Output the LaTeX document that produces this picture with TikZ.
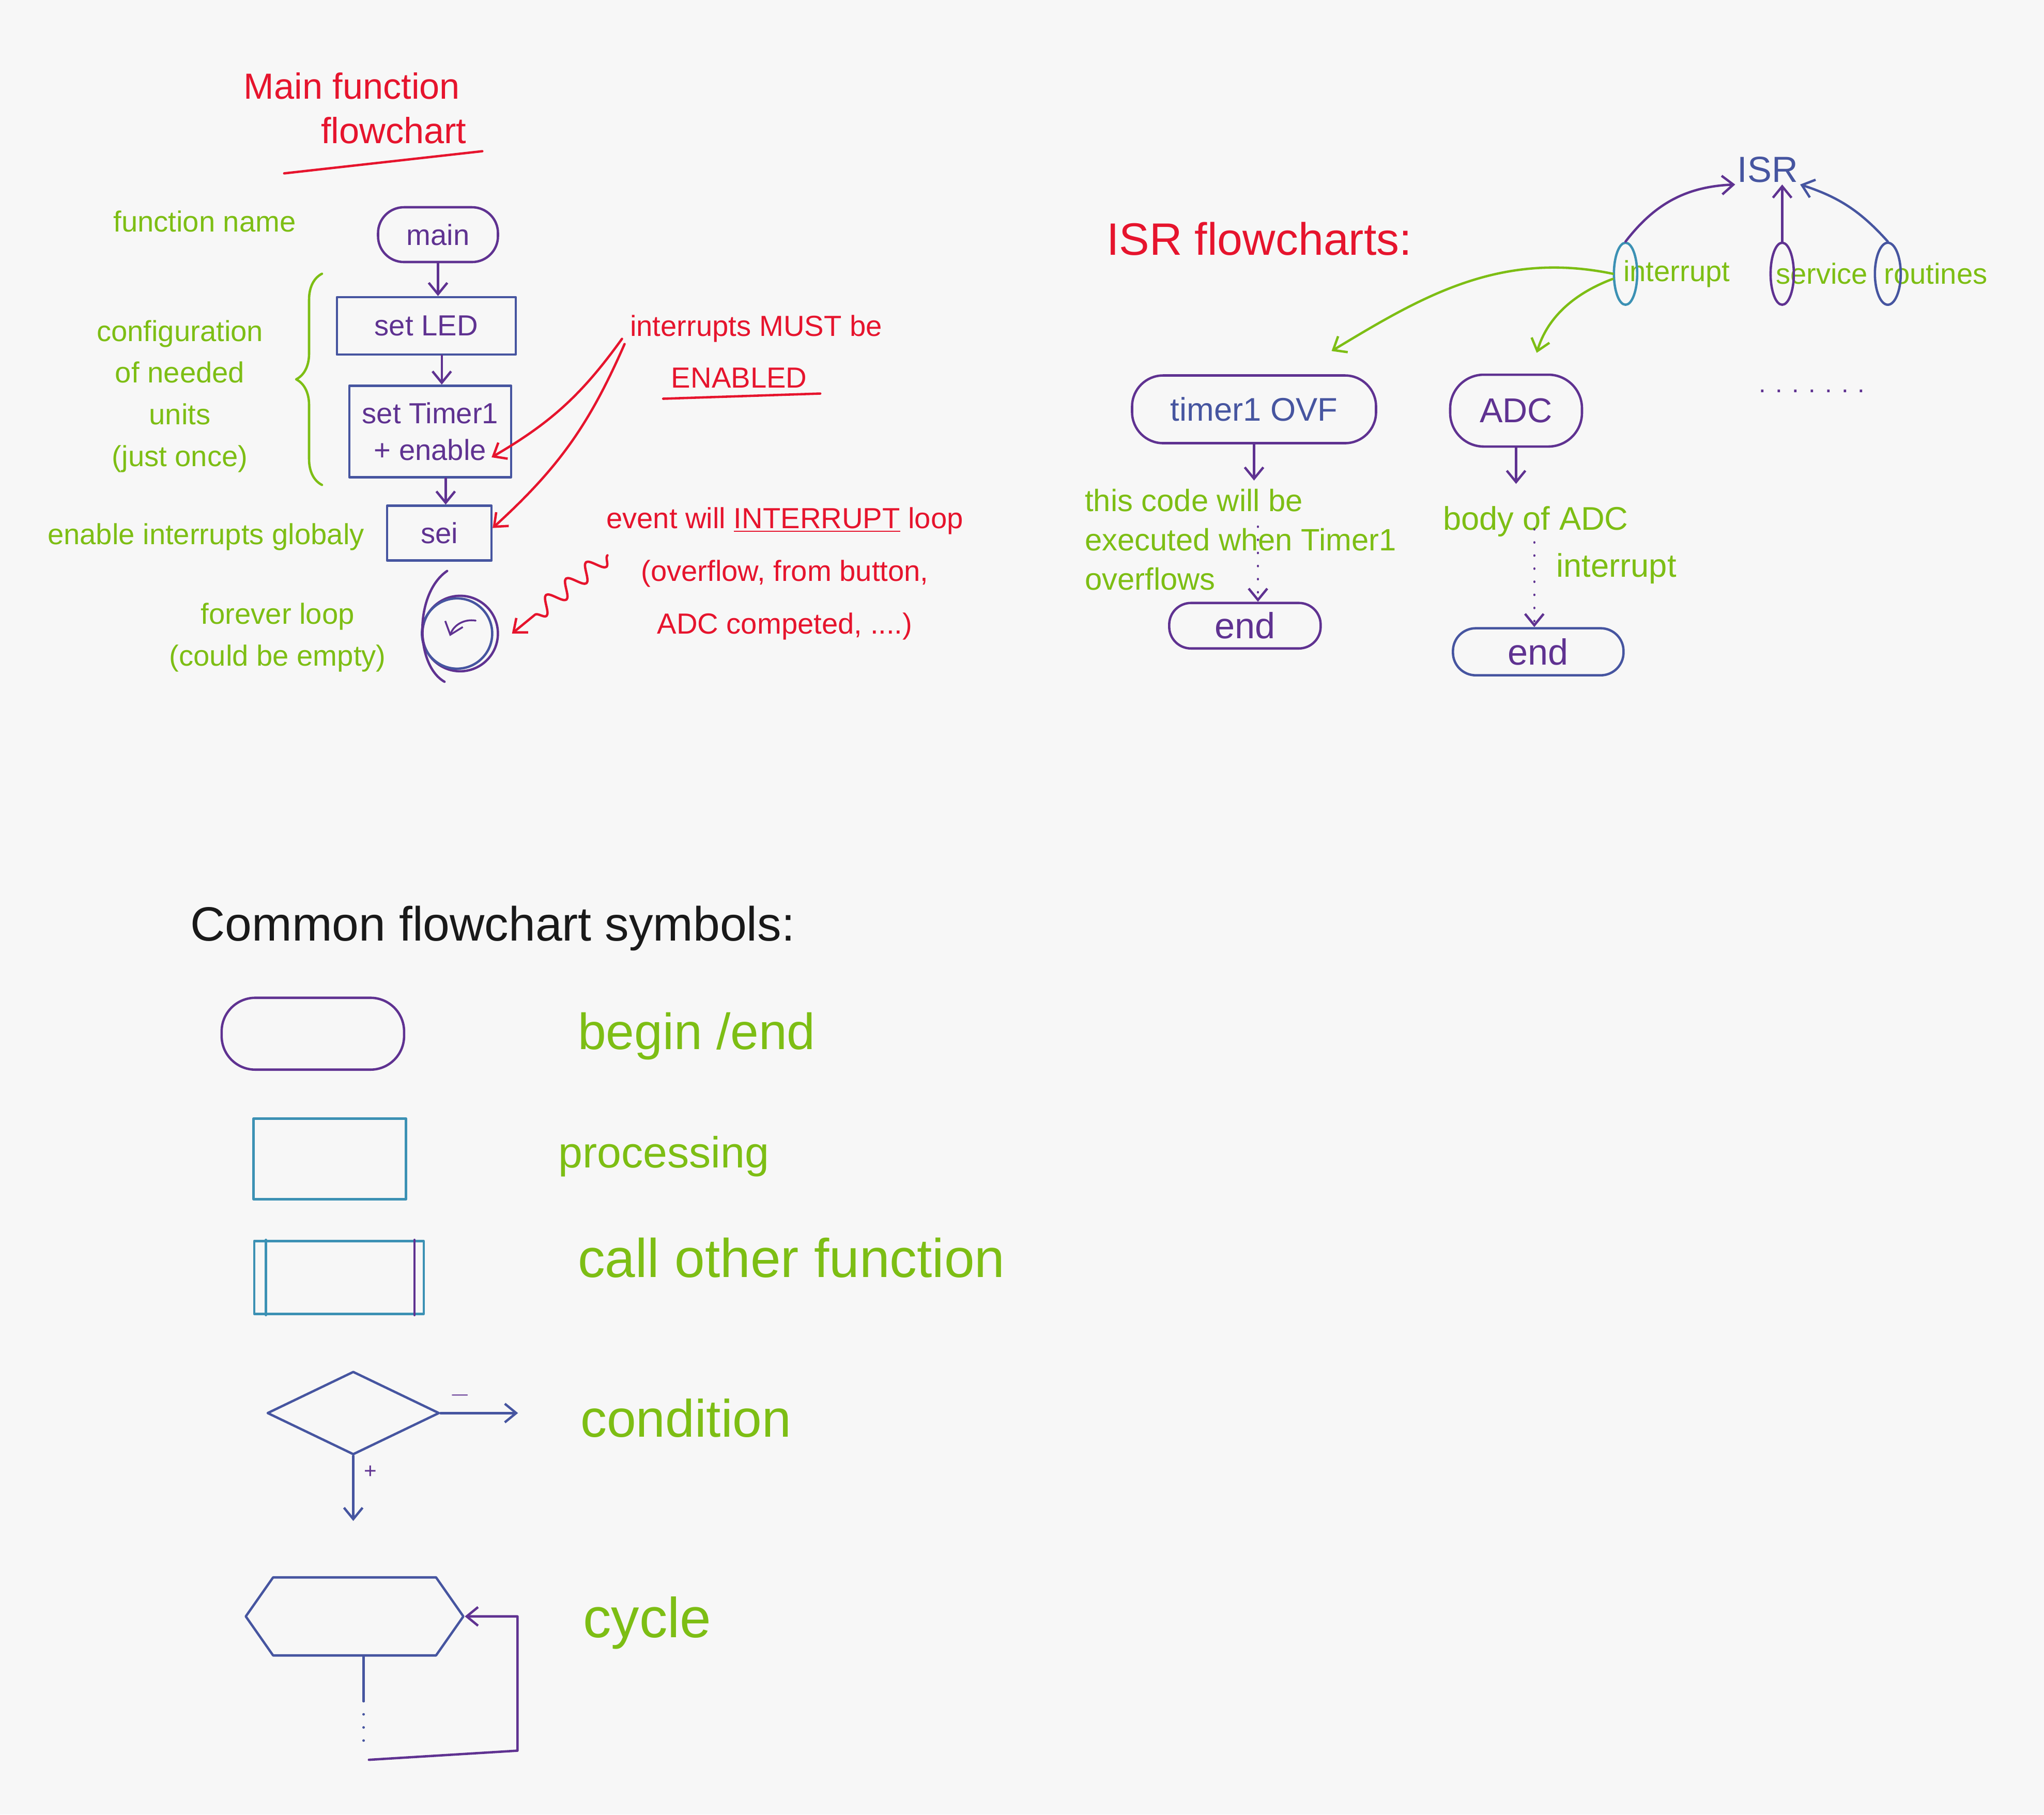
\documentclass[tikz,border=0pt]{standalone}
\usepackage{fontspec}
\setmainfont{Liberation Sans}
\usetikzlibrary{shapes.geometric, shapes.symbols, arrows.meta}
\usetikzlibrary{positioning, decorations.pathreplacing, decorations.pathmorphing}

\definecolor{bgpaper}{RGB}{247,247,247}
\definecolor{inkred}{RGB}{230,20,45}
\definecolor{inkgreen}{RGB}{125,190,20}
\definecolor{inkpurple}{RGB}{95,50,145}
\definecolor{inkblue}{RGB}{70,85,160}
\definecolor{inkteal}{RGB}{60,145,180}
\definecolor{inkblack}{RGB}{25,25,25}

\tikzset{
  ink/.style={line width=1.3pt, line cap=round, line join=round},
  arr/.style={ink, -{Straight Barb[length=2.2mm, width=3.6mm]}},
  dots/.style={ink, dash pattern=on 0.1pt off 2.5mm},
  terminal/.style={ink, draw=inkpurple, text=inkpurple, inner sep=0pt, font=\fontsize{16}{18}\selectfont},
  process/.style={ink, draw=inkblue, text=inkpurple, inner sep=0pt, align=center, font=\fontsize{16}{20}\selectfont},
  note/.style={text=inkgreen, inner sep=0pt, align=center, font=\fontsize{16}{23}\selectfont},
  redtext/.style={text=inkred, inner sep=0pt, align=center, font=\fontsize{16}{29}\selectfont},
  redtitle/.style={text=inkred, inner sep=0pt, font=\fontsize{20}{24}\selectfont},
  legendtext/.style={text=inkgreen, inner sep=0pt, anchor=west, font=\fontsize{28}{30}\selectfont},
  ring/.style={ink, ellipse, draw, minimum width=0.45cm, minimum height=1.2cm, inner sep=0pt},
}

\begin{document}
\begin{tikzpicture}[x=0.02522cm, y=-0.02522cm]
\useasboundingbox (0,0) rectangle (1568,1392);
\fill[bgpaper] (0,0) rectangle (1568,1392);

%% Main function flowchart
\node[redtitle] (titlea) at (270,66) {Main function};
\node[redtitle] (titleb) at (302,100) {flowchart};
\draw[ink, inkred] (218,133) -- (370,116);

\node[terminal, minimum width=2.32cm, minimum height=1.06cm, rounded corners=0.5cm] (main) at (336,180) {main};
\node[process, minimum width=3.46cm, minimum height=1.11cm] (setled) at (327,250) {set LED};
\node[process, minimum width=3.13cm, minimum height=1.77cm] (settim) at (330,331) {set Timer1\\+ enable};
\node[process, minimum width=2.02cm, minimum height=1.06cm] (sei) at (337,409) {sei};
\node[ink, circle, draw=inkpurple, minimum size=1.46cm, inner sep=0pt] (loop) at (353,486) {};

\draw[arr, inkpurple] (main.south) -- (main.south |- setled.north);
\draw[arr, inkpurple] ([xshift=0.3cm]setled.south) -- ([xshift=0.3cm]setled.south |- settim.north);
\draw[arr, inkpurple] ([xshift=0.3cm]settim.south) -- ([xshift=0.3cm]settim.south |- sei.north);

% forever loop strokes
\draw[ink, inkblue] ([xshift=-0.06cm]loop.center) circle (0.68cm);
\coordinate (looptop) at (343,438);
\coordinate (loopbot) at (341,523);
\draw[ink, inkpurple] (looptop) .. controls (318,455) and (318,510) .. (loopbot);
\draw[arr, inkpurple, line width=1pt] ([xshift=0.3cm,yshift=0.25cm]loop.center) to[bend right=40] ([xshift=-0.2cm,yshift=-0.05cm]loop.center);

%% green notes
\node[note] (fname) at (157,170) {function name};
\node[note] (config) at (138,304) {configuration\\of needed\\units\\(just once)};
\draw[ink, inkgreen, decorate, decoration={brace, amplitude=0.5cm}] (247,372) -- (247,210);
\node[note] (enint) at (158,412) {enable interrupts globaly};
\node[note] (forever) at (213,489) {forever loop\\(could be empty)};

%% red notes
\node[redtext] (mustbe) at (580,252) {interrupts MUST be};
\node[redtext] (enabled) at (567,290) {ENABLED};
\draw[ink, inkred] ([xshift=-0.15cm,yshift=-0.2cm]enabled.south west) -- ([xshift=0.25cm,yshift=-0.1cm]enabled.south east);
\draw[arr, inkred] ([xshift=-0.15cm,yshift=-0.2cm]mustbe.west) to[bend left=12] ([xshift=-0.4cm,yshift=-0.5cm]settim.east);
\draw[arr, inkred] ([xshift=-0.1cm,yshift=-0.3cm]mustbe.west) to[bend left=12] ([yshift=0.1cm]sei.east);

\node[redtext] (event) at (602,440) {event will \underline{INTERRUPT} loop\\(overflow, from button,\\ADC competed, ....)};
\coordinate (squig) at (466,426);
\draw[arr, inkred, decorate, decoration={snake, amplitude=1.6mm, segment length=5mm, post length=5mm}] (squig) -- ([xshift=0.25cm]loop.east);

%% ISR flowcharts
\node[redtitle, font=\fontsize{25}{28}\selectfont] (isrtitle) at (966,183) {ISR flowcharts:};
\node[text=inkblue, inner sep=1pt, font=\fontsize{20}{22}\selectfont] (isr) at (1356,130) {ISR};

\node[note, anchor=west] (wint) at (1245,210) {interrupt};
\node[note, anchor=west] (wserv) at (1362,210) {service};
\node[note, anchor=west] (wrout) at (1445,210) {routines};
\node[ring, draw=inkteal] (ci) at ([xshift=0.05cm]wint.west) {};
\node[ring, draw=inkpurple] (cs) at ([xshift=0.13cm]wserv.west) {};
\node[ring, draw=inkblue, minimum width=0.5cm] (cr) at ([xshift=0.08cm]wrout.west) {};

\draw[arr, inkpurple] (ci.north) to[bend left=25] (isr.south west);
\draw[arr, inkpurple] (cs.north) -- (cs.north |- isr.south);
\draw[arr, inkblue] (cr.north) to[bend right=15] (isr.south east);

\node[terminal, draw=inkpurple, text=inkblue, minimum width=4.72cm, minimum height=1.31cm, rounded corners=0.6cm, font=\fontsize{18}{20}\selectfont] (tovf) at (962,314) {timer1 OVF};
\node[terminal, minimum width=2.55cm, minimum height=1.39cm, rounded corners=0.65cm, font=\fontsize{19}{21}\selectfont] (adc) at (1163,315) {ADC};
\node[text=inkpurple, inner sep=0pt, font=\fontsize{14}{16}\selectfont] (more) at (1390,300) {. . . . . . .};

\draw[arr, inkgreen] (ci.west) .. controls (1150,192) and (1090,228) .. ([xshift=1.5cm,yshift=0.45cm]tovf.north);
\draw[arr, inkgreen] ([yshift=-0.1cm]ci.west) .. controls (1200,228) and (1185,250) .. ([xshift=0.4cm,yshift=0.4cm]adc.north);

\coordinate[below=0.7cm of tovf.south] (tovfa);
\draw[arr, inkpurple] (tovf.south) -- (tovfa);
\node[note, anchor=north west, align=left, font=\fontsize{17}{21.5}\selectfont] (tovfnote) at (832,375) {this code will be\\executed when Timer1\\overflows};
\node[terminal, minimum width=2.93cm, minimum height=0.88cm, rounded corners=0.42cm, font=\fontsize{20}{22}\selectfont] (tend) at (955,480) {end};
\coordinate (tovfb) at (965,404);
\draw[arr, dots, inkpurple] (tovfb) -- (tovfb |- tend.north);

\coordinate[below=0.7cm of adc.south] (adca);
\draw[arr, inkpurple] (adc.south) -- (adca);
\node[note, font=\fontsize{18}{20}\selectfont] (bodya) at (1178,400) {body of ADC};
\node[note, font=\fontsize{18}{20}\selectfont] (bodyb) at (1240,436) {interrupt};
\node[terminal, draw=inkblue, minimum width=3.3cm, minimum height=0.91cm, rounded corners=0.44cm, font=\fontsize{20}{22}\selectfont] (aend) at (1180,500) {end};
\coordinate (adcb) at (1177,406);
\draw[arr, dots, inkpurple] (adcb) -- (adcb |- aend.north);

%% Common flowchart symbols
\node[text=inkblack, inner sep=0pt, font=\fontsize{26.5}{28}\selectfont] (common) at (378,712) {Common flowchart symbols:};

\node[terminal, minimum width=3.53cm, minimum height=1.39cm, rounded corners=0.65cm] (legterm) at (240,793) {};
\node[legendtext] (lterm) at (443,795) {begin /end};

\node[process, draw=inkteal, minimum width=2.95cm, minimum height=1.56cm] (legproc) at (253,889) {};
\node[legendtext, font=\fontsize{24}{26}\selectfont] (lproc) at (428,887) {processing};

\node[process, draw=inkteal, minimum width=3.28cm, minimum height=1.41cm] (legcall) at (260,980) {};
\draw[ink, inkteal] ([xshift=0.25cm]legcall.north west) -- ([xshift=0.25cm]legcall.south west);
\draw[ink, inkpurple] ([xshift=-0.2cm]legcall.north east) -- ([xshift=-0.2cm]legcall.south east);
\node[legendtext, font=\fontsize{30}{32}\selectfont] (lcall) at (443,965) {call other function};

\node[ink, diamond, draw=inkblue, minimum width=3.33cm, minimum height=1.61cm, inner sep=0pt] (legcond) at (271,1084) {};
\coordinate[right=1.5cm of legcond.east] (condno);
\coordinate[below=1.26cm of legcond.south] (condyes);
\draw[arr, inkblue] (legcond.east) -- (condno) node[pos=0.25, above=1pt, text=inkpurple, font=\fontsize{14}{16}\selectfont] {$-$};
\draw[arr, inkblue] (legcond.south) -- (condyes) node[pos=0.25, right=2pt, text=inkpurple, font=\fontsize{12}{14}\selectfont] {+};
\node[legendtext, font=\fontsize{29}{31}\selectfont] (lcond) at (445,1088) {condition};

\node[ink, signal, signal to=east and west, signal pointer angle=110, draw=inkblue, minimum width=4.21cm, minimum height=1.51cm, inner sep=0pt] (legcyc) at (272,1240) {};
\coordinate (cycdot) at (279,1305);
\coordinate (cycbl) at (283,1350);
\coordinate (cycbr) at (397,1343);
\draw[ink, inkblue] (cycdot |- legcyc.south) -- (cycdot);
\draw[dots, inkblue] (cycdot) -- ([yshift=0.2cm]cycdot |- cycbl);
\draw[arr, inkpurple] (cycbl) -- (cycbr) |- (legcyc.east);
\node[legendtext, font=\fontsize{31}{33}\selectfont] (lcyc) at (447,1245) {cycle};

\end{tikzpicture}
\end{document}
